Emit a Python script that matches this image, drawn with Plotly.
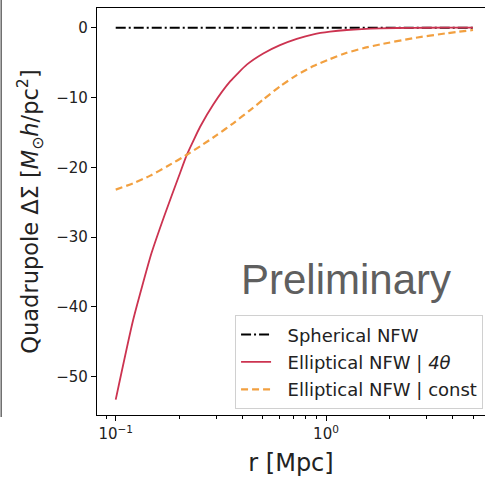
import plotly.graph_objects as go

# Data
r_sph = [0.1, 5.0]
y_sph = [0.0, 0.0]

r_ell4 = [0.1, 0.121, 0.148, 0.171, 0.199, 0.218, 0.234, 0.252, 0.291, 0.350,
          0.420, 0.503, 0.604, 0.726, 0.871, 1.045, 1.255, 1.81, 2.6, 3.6, 5.0]
y_ell4 = [-53.3, -41.9, -32.3, -26.8, -21.4, -18.2, -16.2, -14.2, -11.0, -7.7,
          -5.3, -3.7, -2.5, -1.6, -0.95, -0.57, -0.33, -0.09, -0.02, -0.005, 0.0]

r_const = [0.1, 0.121, 0.146, 0.175, 0.218, 0.252, 0.302, 0.362, 0.436, 0.503,
           0.604, 0.726, 0.871, 1.045, 1.255, 1.50, 1.81, 2.60, 3.75, 5.0]
y_const = [-23.2, -22.3, -21.2, -19.9, -18.2, -17.0, -15.4, -13.7, -11.8, -10.3,
           -8.4, -6.8, -5.5, -4.5, -3.6, -2.95, -2.4, -1.5, -0.8, -0.33]

y_ticks = [0, -10, -20, -30, -40, -50]
x_ticks = [0.1, 1.0]
x_ticktext = ["10<sup>−1</sup>", "10<sup>0</sup>"]
x_minor = [0.09, 0.2, 0.3, 0.4, 0.5, 0.6, 0.7, 0.8, 0.9, 2, 3, 4, 5, 6]

labels = ["Spherical NFW", "Elliptical NFW | <i>4θ</i>", "Elliptical NFW | const"]

FONT = "DejaVu Sans"
PAD = "\u00a0\u00a0"

fig = go.Figure()
fig.add_trace(go.Scatter(x=r_sph, y=y_sph, mode="lines", name=PAD + labels[0], legendgroup="a",
                         line=dict(color="black", width=2, dash="10px,3px,2px,3px")))
fig.add_trace(go.Scatter(x=r_ell4, y=y_ell4, mode="lines", name=PAD + labels[1], legendgroup="b",
                         line=dict(color="#CC3350", width=1.8, shape="spline", smoothing=0.5)))
fig.add_trace(go.Scatter(x=r_const, y=y_const, mode="lines", name=PAD + labels[2], legendgroup="c",
                         line=dict(color="#F2A040", width=2.2, dash="7px,4px", shape="spline", smoothing=0.5)))

fig.update_layout(
    width=485, height=478,
    margin=dict(l=97, r=0, t=8, b=63),
    paper_bgcolor="white", plot_bgcolor="white",
    font=dict(family=FONT, color="#222222", size=15),
    showlegend=True,
    legend=dict(x=0.995, y=0.014, xanchor="right", yanchor="bottom",
                bgcolor="rgba(255,255,255,0.85)", bordercolor="#d0d0d0", borderwidth=1,
                font=dict(family=FONT, size=18, color="#222222"),
                traceorder="grouped", tracegroupgap=1,
                itemwidth=30),
)

fig.update_xaxes(
    type="log", range=[-1.089, 0.756],
    showgrid=False, zeroline=False,
    showline=True, linecolor="black", linewidth=1.2, mirror=True,
    ticks="outside", ticklen=5, tickwidth=1, tickcolor="black",
    tickmode="array", tickvals=x_ticks, ticktext=x_ticktext,
    tickfont=dict(family=FONT, size=15),
    minor=dict(ticks="outside", ticklen=3, tickwidth=0.8, tickcolor="black",
               tickmode="array", tickvals=x_minor, showgrid=False),
    title=dict(text="r [Mpc]", font=dict(family=FONT, size=24), standoff=12),
)

fig.update_yaxes(
    range=[-55.5, 2.82],
    showgrid=False, zeroline=False,
    showline=True, linecolor="black", linewidth=1.2, mirror=False,
    ticks="outside", ticklen=5, tickwidth=1, tickcolor="black",
    tickmode="array", tickvals=y_ticks,
    tickfont=dict(family=FONT, size=15),
    title=dict(text="Quadrupole ΔΣ [<i>M</i><sub>⊙</sub><i>h</i>/pc<sup>2</sup>]",
               font=dict(family=FONT, size=22.5), standoff=11),
)

fig.add_annotation(text="Preliminary", xref="paper", yref="paper",
                   x=0.642, y=0.334, xanchor="center", yanchor="middle",
                   showarrow=False,
                   font=dict(family="Liberation Sans", size=42, color="#5f5f5f"))

# thin vertical rule at far left of the image
fig.add_shape(type="line", xref="paper", yref="paper",
              x0=-0.247, x1=-0.247, y0=-0.005, y1=1.02,
              line=dict(color="#444444", width=1.2))

fig.write_html("out.html")
